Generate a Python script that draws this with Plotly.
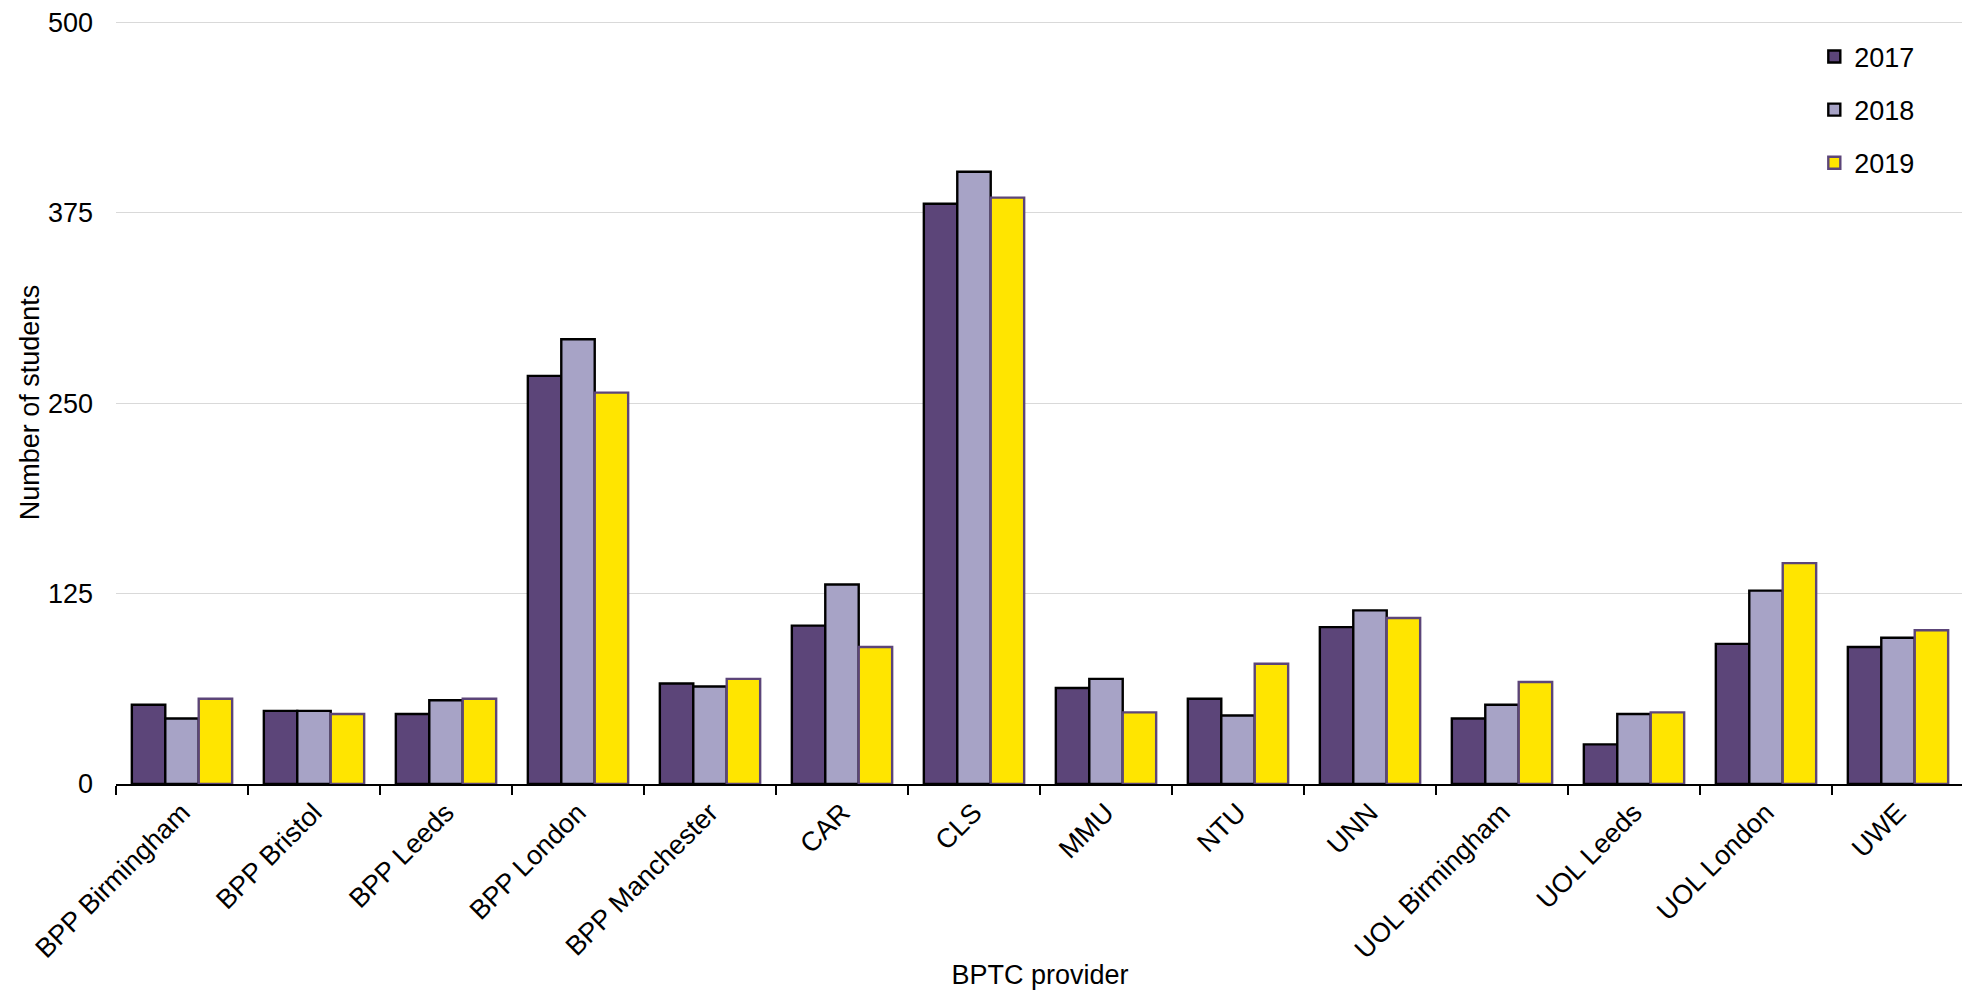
import plotly.graph_objects as go

providers = ["BPP Birmingham", "BPP Bristol", "BPP Leeds", "BPP London", "BPP Manchester",
             "CAR", "CLS", "MMU", "NTU", "UNN", "UOL Birmingham", "UOL Leeds",
             "UOL London", "UWE"]
y2017 = [52, 48, 46, 268, 66, 104, 381, 63, 56, 103, 43, 26, 92, 90]
y2018 = [43, 48, 55, 292, 64, 131, 402, 69, 45, 114, 52, 46, 127, 96]
y2019 = [56, 46, 56, 257, 69, 90, 385, 47, 79, 109, 67, 47, 145, 101]
years = ["2017", "2018", "2019"]
ytick_vals = [0, 125, 250, 375, 500]

fills = ["#5C4579", "#A7A3C6", "#FFE500"]
borders = ["#000000", "#000000", "#5C4579"]

FONT = "Liberation Sans, Arial, sans-serif"
FS = 27

fig = go.Figure()
for name, vals, fc, bc in zip(years, [y2017, y2018, y2019], fills, borders):
    fig.add_trace(go.Bar(
        x=providers, y=vals, name=name, legendgroup=name,
        marker=dict(color=fc, line=dict(color=bc, width=2.4)),
    ))

fig.update_layout(
    width=1962, height=982,
    margin=dict(l=108, r=6, t=13, b=206),
    paper_bgcolor="white", plot_bgcolor="white",
    barmode="group", bargap=0.24, bargroupgap=0,
    font=dict(family=FONT, size=FS, color="#000000"),
    legend=dict(x=0.919, y=0.985, xanchor="left", yanchor="top",
                font=dict(size=FS), tracegroupgap=15,
                bgcolor="rgba(0,0,0,0)"),
    xaxis=dict(
        type="category", range=[-0.5, len(providers) - 0.5],
        showline=True, linecolor="#000000", linewidth=2,
        ticks="outside", tickson="boundaries", ticklen=9, tickwidth=2,
        tickcolor="#000000", tickangle=-45,
        tickfont=dict(size=FS),
        showgrid=False, automargin=False,
        title=dict(text="BPTC provider", font=dict(size=FS), standoff=14),
    ),
    yaxis=dict(
        range=[0, 501], tickvals=ytick_vals,
        showgrid=True, gridcolor="#D9D9D9", gridwidth=1,
        zeroline=False, showline=False, ticks="",
        ticklabelstandoff=22, ticklabeloverflow="allow",
        tickfont=dict(size=FS), automargin=False,
        title=dict(text="Number of students", font=dict(size=FS), standoff=0),
    ),
)

fig.write_html("out.html")
